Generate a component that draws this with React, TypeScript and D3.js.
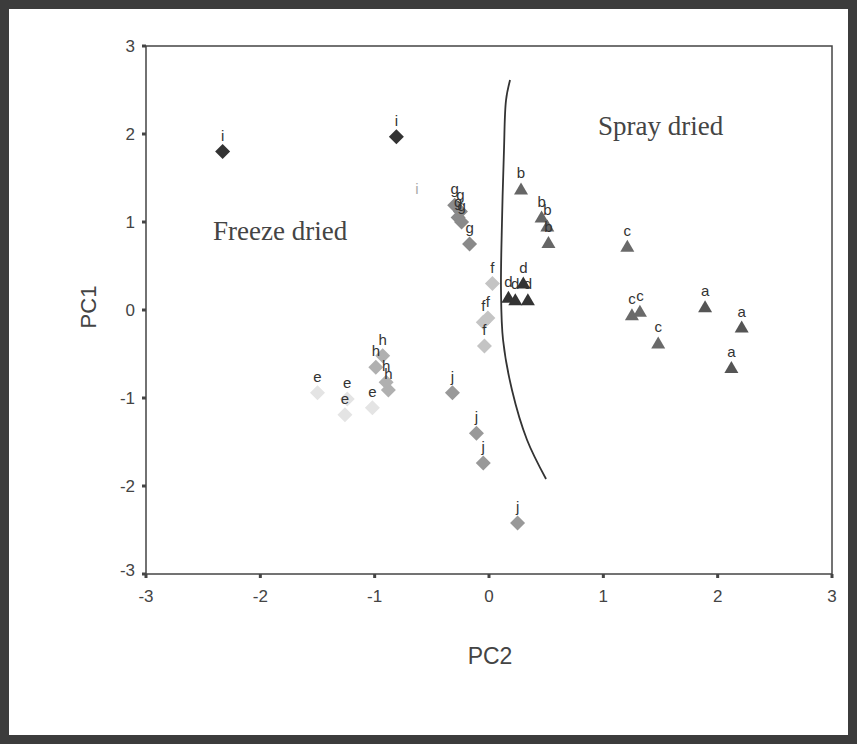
import React from "react";
import * as d3 from "d3";

// ---- data (PC2 = x, PC1 = y) ----
const groupA = [[1.89, 0.03], [2.21, -0.2], [2.12, -0.66]];
const groupB = [[0.28, 1.37], [0.46, 1.05], [0.51, 0.95], [0.52, 0.76]];
const groupC = [[1.21, 0.72], [1.25, -0.06], [1.32, -0.02], [1.48, -0.38]];
const groupD = [[0.17, 0.14], [0.23, 0.11], [0.34, 0.11], [0.3, 0.3]];
const groupE = [[-1.5, -0.94], [-1.24, -1.01], [-1.26, -1.19], [-1.02, -1.11]];
const groupF = [[0.03, 0.3], [-0.05, -0.14], [-0.01, -0.09], [-0.04, -0.41]];
const groupG = [[-0.3, 1.19], [-0.25, 1.12], [-0.27, 1.05], [-0.24, 1.0], [-0.17, 0.75]];
const groupH = [[-0.93, -0.52], [-0.99, -0.65], [-0.9, -0.82], [-0.88, -0.91]];
const groupI = [[-2.33, 1.8], [-0.81, 1.97], [-0.63, 1.19]];
const groupJ = [[-0.32, -0.94], [-0.11, -1.4], [-0.05, -1.74], [0.25, -2.42]];

const boundary = [
  [0.184, 2.614], [0.149, 2.386], [0.131, 1.818], [0.114, 1.023], [0.105, 0.227],
  [0.123, -0.341], [0.201, -0.909], [0.333, -1.477], [0.499, -1.92],
];

const ticks = [-3, -2, -1, 0, 1, 2, 3];

const groups = [
  { label: "a", pts: groupA, shape: "tri", color: "#555555" },
  { label: "b", pts: groupB, shape: "tri", color: "#666666" },
  { label: "c", pts: groupC, shape: "tri", color: "#6a6a6a" },
  { label: "d", pts: groupD, shape: "tri", color: "#333333" },
  { label: "e", pts: groupE, shape: "dia", color: "#e4e4e4" },
  { label: "f", pts: groupF, shape: "dia", color: "#c4c4c4" },
  { label: "g", pts: groupG, shape: "dia", color: "#8a8a8a" },
  { label: "h", pts: groupH, shape: "dia", color: "#b0b0b0" },
  { label: "i", pts: groupI, shape: "dia", color: "#333333" },
  { label: "j", pts: groupJ, shape: "dia", color: "#999999" },
];

export default function App() {
  const W = 857, H = 744;
  const x = d3.scaleLinear().domain([-3, 3]).range([146, 832]);
  const y = d3.scaleLinear().domain([-3, 3]).range([574, 46]);
  const line = d3.line<number[]>().x(d => x(d[0])).y(d => y(d[1])).curve(d3.curveCatmullRom);
  const font = "'Liberation Sans', Arial, sans-serif";
  const hiddenI = (g: any, k: number) => g.label === "i" && k === 2;

  return (
    <svg width={W} height={H} style={{ position: "absolute", left: 0, top: 0, background: "#fff" }}>
      <rect x={4.5} y={4.5} width={W - 9} height={H - 9} fill="#fff" stroke="#3c3c3c" strokeWidth={9} />
      {/* plot box */}
      <rect x={x(-3)} y={y(3)} width={x(3) - x(-3)} height={y(-3) - y(3)} fill="none" stroke="#444" strokeWidth={1.5} />
      {/* y ticks */}
      {ticks.map(t => (
        <g key={"y" + t}>
          <line x1={x(-3) - 4} x2={x(-3)} y1={y(t)} y2={y(t)} stroke="#444" strokeWidth={3} />
          <text x={x(-3) - 11} y={y(t) + (t === -3 ? -4 : 0)} dy="0.35em" textAnchor="end" fontFamily={font} fontSize={17} fill="#444">{t}</text>
        </g>
      ))}
      {/* x ticks */}
      {ticks.map(t => (
        <g key={"x" + t}>
          <line x1={x(t)} x2={x(t)} y1={y(-3)} y2={y(-3) + 4} stroke="#444" strokeWidth={3} />
          <text x={x(t)} y={y(-3) + 28} textAnchor="middle" fontFamily={font} fontSize={17} fill="#444">{t}</text>
        </g>
      ))}
      <text x={490} y={664} textAnchor="middle" fontFamily={font} fontSize={23} fill="#444">PC2</text>
      <text transform={`translate(96,307) rotate(-90)`} textAnchor="middle" fontFamily={font} fontSize={22} fill="#444">PC1</text>

      <path d={line(boundary) || ""} fill="none" stroke="#333" strokeWidth={1.8} />

      <text x={213} y={240} fontFamily="'Liberation Serif', 'Times New Roman', serif" fontSize={27} fill="#444">Freeze dried</text>
      <text x={598} y={135} fontFamily="'Liberation Serif', 'Times New Roman', serif" fontSize={27} fill="#444">Spray dried</text>

      {groups.map(g =>
        g.pts.map((p, k) => {
          const cx = x(p[0]), cy = y(p[1]);
          const hidden = hiddenI(g, k);
          const shape = g.shape === "tri"
            ? <path d={`M${cx},${cy - 7}L${cx + 7},${cy + 5}L${cx - 7},${cy + 5}Z`} fill={g.color} />
            : <path d={`M${cx},${cy - 7.5}L${cx + 7.5},${cy}L${cx},${cy + 7.5}L${cx - 7.5},${cy}Z`} fill={g.color} />;
          return (
            <g key={g.label + k}>
              {!hidden && shape}
              <text x={cx} y={cy - 11} textAnchor="middle" fontFamily={font} fontSize={15} fill={hidden ? "#aaaaaa" : "#333"}>{g.label}</text>
            </g>
          );
        })
      )}
    </svg>
  );
}
